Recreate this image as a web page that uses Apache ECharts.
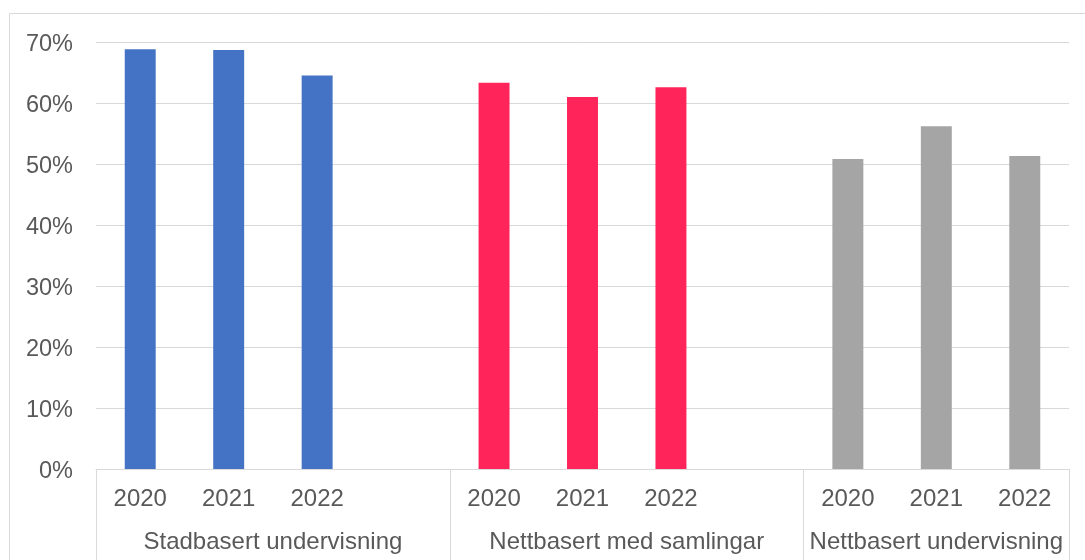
<!DOCTYPE html>
<html>
<head>
<meta charset="utf-8">
<script src="https://cdn.jsdelivr.net/npm/echarts@6/dist/echarts.min.js"></script>
<style>
html,body{margin:0;padding:0;background:#fff;}
#chart{width:1085px;height:560px;}
</style>
</head>
<body>
<div id="chart"></div>
<script>
// ---- data ----
const years = ['2020', '2021', '2022'];
const groups = ['Stadbasert undervisning', 'Nettbasert med samlingar', 'Nettbasert undervisning'];
const stadbasert = [68.8, 68.7, 64.5];
const nettSamlingar = [63.3, 61.0, 62.6];
const nettUndervisning = [50.8, 56.2, 51.3];
const yTicks = [0, 10, 20, 30, 40, 50, 60, 70];
const colors = ['#4472C4', '#FF245A', '#A5A5A5'];

const groupValues = [stadbasert, nettSamlingar, nettUndervisning];

// build category slots: years per group + one empty spacer slot between groups
const categories = [];
const spans = [];
groups.forEach((g, gi) => {
  years.forEach(y => categories.push(gi + '|' + y));
  let span = years.length;
  if (gi < groups.length - 1) { categories.push(gi + '|'); span++; }
  spans.push(span);
});
const starts = [];
let acc = 0;
spans.forEach(s => { starts.push(acc); acc += s; });
const boundaries = starts.concat([acc]);
const centers = starts.map((s, i) => s + spans[i] / 2);

const seriesList = groups.map((g, gi) => {
  const arr = categories.map(() => null);
  years.forEach((y, yi) => {
    arr[categories.indexOf(gi + '|' + y)] = groupValues[gi][yi];
  });
  return {
    name: g,
    type: 'bar',
    data: arr,
    barWidth: '35%',
    barGap: '-100%',
    itemStyle: { color: colors[gi] },
    silent: true
  };
});

const textColor = '#595959';
const lineColor = '#d9d9d9';
const fontFamily = '"Liberation Sans", Arial, sans-serif';

const chart = echarts.init(document.getElementById('chart'), null, { renderer: 'canvas' });
chart.setOption({
  animation: false,
  backgroundColor: '#fff',
  grid: { left: 96, right: 16, top: 42, bottom: 91, containLabel: false },
  graphic: [{
    type: 'rect',
    shape: { x: 9.5, y: 13.5, width: 1200, height: 700 },
    style: { fill: 'none', stroke: lineColor, lineWidth: 1 },
    silent: true,
    z: -10
  }],
  xAxis: [{
    type: 'category',
    data: categories,
    axisLine: { lineStyle: { color: lineColor, width: 1 } },
    axisTick: { show: false },
    axisLabel: {
      interval: 0,
      color: textColor,
      fontSize: 24,
      fontFamily: fontFamily,
      margin: 18,
      formatter: v => v.split('|')[1]
    },
    splitLine: { show: false }
  }, {
    type: 'value',
    min: 0,
    max: categories.length,
    position: 'bottom',
    axisLine: { show: false },
    splitLine: { show: false },
    axisTick: {
      show: true,
      customValues: boundaries,
      length: 95,
      lineStyle: { color: lineColor, width: 1 }
    },
    axisLabel: {
      show: true,
      customValues: centers,
      color: textColor,
      fontSize: 24,
      fontFamily: fontFamily,
      margin: 61,
      formatter: v => {
        const i = centers.indexOf(v);
        return i >= 0 ? groups[i] : '';
      }
    }
  }],
  yAxis: {
    type: 'value',
    min: yTicks[0],
    max: yTicks[yTicks.length - 1],
    interval: yTicks[1] - yTicks[0],
    axisLine: { show: false },
    axisTick: { show: false },
    splitLine: { lineStyle: { color: lineColor, width: 1 } },
    axisLabel: {
      margin: 23,
      formatter: v => '{p|' + v + '%}',
      rich: {
        p: {
          color: textColor,
          fontSize: 23.5,
          fontFamily: fontFamily,
          padding: [5, 0, 0, 0]
        }
      }
    }
  },
  series: seriesList
});
</script>
</body>
</html>
